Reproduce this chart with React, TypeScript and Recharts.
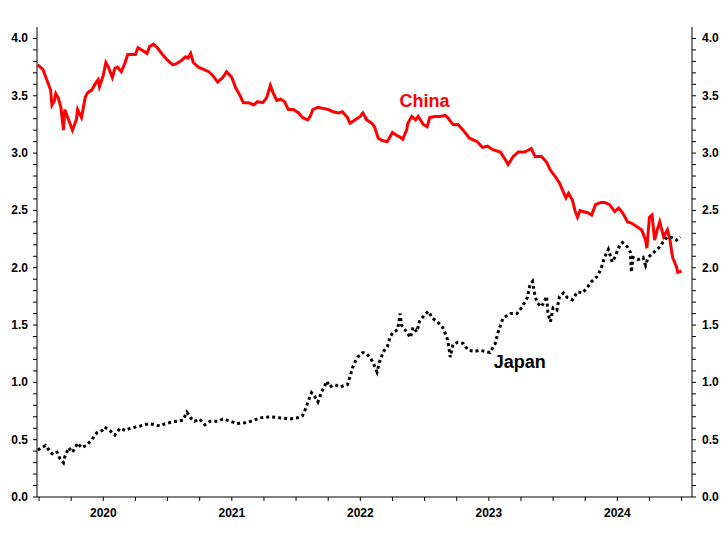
import React from 'react';
import { LineChart, Line, XAxis, YAxis, ReferenceDot } from 'recharts';

// time in decimal years, yields in %
const chinaTime = [
  2019.99, 2020.03, 2020.06, 2020.09, 2020.1, 2020.12, 2020.13, 2020.15, 2020.17, 2020.19,
  2020.2, 2020.22, 2020.24, 2020.26, 2020.29, 2020.3, 2020.33, 2020.36, 2020.38, 2020.41,
  2020.44, 2020.46, 2020.47, 2020.5, 2020.52, 2020.54, 2020.57, 2020.59, 2020.61, 2020.64,
  2020.67, 2020.69, 2020.72, 2020.75, 2020.77, 2020.8, 2020.84, 2020.86, 2020.89, 2020.92,
  2020.96, 2021.0, 2021.04, 2021.07, 2021.11, 2021.14, 2021.16, 2021.18, 2021.2, 2021.24,
  2021.28, 2021.32, 2021.35, 2021.39, 2021.43, 2021.46, 2021.5, 2021.53, 2021.56, 2021.59,
  2021.63, 2021.67, 2021.7, 2021.74, 2021.77, 2021.8, 2021.82, 2021.85, 2021.88, 2021.91,
  2021.94, 2021.98, 2022.02, 2022.05, 2022.09, 2022.11, 2022.13, 2022.17, 2022.21, 2022.25,
  2022.29, 2022.33, 2022.36, 2022.4, 2022.42, 2022.46, 2022.5, 2022.52, 2022.55, 2022.59,
  2022.61, 2022.64, 2022.67, 2022.71, 2022.75, 2022.79, 2022.81, 2022.83, 2022.86, 2022.87,
  2022.9, 2022.93, 2022.95, 2022.99, 2023.02, 2023.04, 2023.08, 2023.12, 2023.16, 2023.18,
  2023.22, 2023.26, 2023.3, 2023.35, 2023.41, 2023.45, 2023.49, 2023.53, 2023.59, 2023.63,
  2023.65, 2023.69, 2023.73, 2023.78, 2023.83, 2023.86, 2023.91, 2023.95, 2023.98, 2024.02,
  2024.05, 2024.08, 2024.1, 2024.12, 2024.15, 2024.17, 2024.19, 2024.21, 2024.23, 2024.27,
  2024.3, 2024.33, 2024.37, 2024.4, 2024.44, 2024.48, 2024.51, 2024.54, 2024.58, 2024.61,
  2024.65, 2024.69, 2024.72, 2024.73, 2024.75, 2024.77, 2024.79, 2024.81, 2024.83, 2024.86,
  2024.89, 2024.91, 2024.93, 2024.96, 2024.97, 2025.0,
];
const chinaYield = [
  3.77, 3.73, 3.64, 3.55, 3.42, 3.46, 3.52, 3.48, 3.4, 3.2,
  3.38, 3.32, 3.26, 3.2, 3.29, 3.38, 3.31, 3.49, 3.53, 3.55,
  3.61, 3.64, 3.58, 3.68, 3.79, 3.75, 3.66, 3.74, 3.75, 3.71,
  3.79, 3.86, 3.86, 3.86, 3.92, 3.9, 3.87, 3.93, 3.95, 3.92,
  3.86, 3.81, 3.77, 3.78, 3.81, 3.84, 3.83, 3.87, 3.79, 3.75,
  3.73, 3.71, 3.68, 3.62, 3.66, 3.71, 3.66, 3.57, 3.51, 3.44,
  3.44, 3.42, 3.45, 3.44, 3.48, 3.59, 3.53, 3.46, 3.47, 3.45,
  3.38, 3.38, 3.35, 3.31, 3.29, 3.32, 3.38, 3.4, 3.39, 3.38,
  3.36, 3.35, 3.36, 3.31, 3.26, 3.29, 3.32, 3.35, 3.29, 3.26,
  3.23, 3.13, 3.11, 3.1, 3.18, 3.15, 3.14, 3.12, 3.2, 3.26,
  3.32, 3.29, 3.32, 3.25, 3.23, 3.31, 3.32, 3.32, 3.33, 3.31,
  3.25, 3.25, 3.2, 3.13, 3.1, 3.05, 3.06, 3.03, 3.01, 2.94,
  2.9, 2.97, 3.01, 3.01, 3.04, 2.97, 2.97, 2.92, 2.85, 2.79,
  2.74, 2.66, 2.61, 2.65, 2.59, 2.5, 2.44, 2.5, 2.49, 2.48,
  2.46, 2.55, 2.57, 2.57, 2.55, 2.49, 2.52, 2.48, 2.4, 2.39,
  2.36, 2.33, 2.24, 2.17, 2.44, 2.46, 2.24, 2.33, 2.4, 2.27,
  2.33, 2.24, 2.09, 2.01, 1.96, 1.97,
];

const japanTime = [
  2019.99, 2020.05, 2020.09, 2020.11, 2020.14, 2020.16, 2020.19, 2020.2, 2020.23, 2020.26,
  2020.3, 2020.33, 2020.37, 2020.41, 2020.45, 2020.49, 2020.51, 2020.55, 2020.59, 2020.63,
  2020.67, 2020.71, 2020.75, 2020.79, 2020.82, 2020.86, 2020.9, 2020.94, 2020.98, 2021.02,
  2021.07, 2021.12, 2021.15, 2021.18, 2021.21, 2021.25, 2021.29, 2021.33, 2021.39, 2021.43,
  2021.49, 2021.54, 2021.62, 2021.72, 2021.8, 2021.88, 2021.95, 2022.01, 2022.05, 2022.07,
  2022.09, 2022.12, 2022.15, 2022.17, 2022.2, 2022.24, 2022.26, 2022.3, 2022.34, 2022.4,
  2022.42, 2022.44, 2022.46, 2022.48, 2022.52, 2022.55, 2022.58, 2022.6, 2022.63, 2022.65,
  2022.68, 2022.71, 2022.73, 2022.75, 2022.79, 2022.81, 2022.82, 2022.86, 2022.89, 2022.91,
  2022.94, 2022.96, 2023.0, 2023.03, 2023.06, 2023.1, 2023.14, 2023.16, 2023.18, 2023.2,
  2023.22, 2023.26, 2023.3, 2023.34, 2023.39, 2023.43, 2023.47, 2023.51, 2023.55, 2023.57,
  2023.61, 2023.67, 2023.72, 2023.76, 2023.8, 2023.82, 2023.84, 2023.86, 2023.88, 2023.91,
  2023.95, 2023.96, 2023.98, 2024.0, 2024.03, 2024.05, 2024.08, 2024.11, 2024.15, 2024.19,
  2024.23, 2024.26, 2024.3, 2024.34, 2024.37, 2024.4, 2024.43, 2024.46, 2024.48, 2024.52,
  2024.54, 2024.58, 2024.6, 2024.61, 2024.62, 2024.66, 2024.7, 2024.72, 2024.74, 2024.78,
  2024.82, 2024.86, 2024.89, 2024.93, 2024.96, 2024.99,
];
const japanYield = [
  0.41, 0.45, 0.39, 0.37, 0.39, 0.34, 0.3, 0.35, 0.43, 0.39,
  0.47, 0.43, 0.45, 0.5, 0.56, 0.58, 0.61, 0.58, 0.54, 0.6,
  0.58, 0.6, 0.61, 0.62, 0.63, 0.64, 0.63, 0.62, 0.64, 0.65,
  0.66, 0.67, 0.74, 0.69, 0.66, 0.68, 0.63, 0.66, 0.66, 0.68,
  0.66, 0.64, 0.65, 0.69, 0.7, 0.69, 0.68, 0.69, 0.71, 0.76,
  0.82, 0.91, 0.87, 0.83, 0.92, 1.01, 0.96, 0.98, 0.96, 0.98,
  1.05, 1.13, 1.18, 1.22, 1.26, 1.25, 1.21, 1.17, 1.09, 1.18,
  1.27, 1.31, 1.39, 1.43, 1.46, 1.6, 1.5, 1.44, 1.39, 1.48,
  1.44, 1.53, 1.59, 1.62, 1.56, 1.53, 1.48, 1.43, 1.37, 1.22,
  1.33, 1.35, 1.34, 1.28, 1.27, 1.28, 1.27, 1.26, 1.34, 1.43,
  1.56, 1.6, 1.6, 1.66, 1.74, 1.85, 1.88, 1.75, 1.69, 1.66,
  1.75, 1.6, 1.53, 1.65, 1.63, 1.75, 1.78, 1.74, 1.72, 1.79,
  1.78, 1.82, 1.88, 1.92, 1.98, 2.09, 2.16, 2.05, 2.09, 2.2,
  2.22, 2.18, 2.14, 1.96, 2.09, 2.07, 2.09, 2.02, 2.09, 2.13,
  2.17, 2.23, 2.27, 2.26, 2.24, 2.27,
];

const xTicks = [
  2020, 2020.25, 2020.5, 2020.75, 2021, 2021.25, 2021.5, 2021.75, 2022, 2022.25, 2022.5,
  2022.75, 2023, 2023.25, 2023.5, 2023.75, 2024, 2024.25, 2024.5, 2024.75, 2025,
];
const yTicks = Array.from({ length: 41 }, (_, i) => i / 10);

const china = chinaTime.map((t, i) => ({ t, v: chinaYield[i] }));
const japan = japanTime.map((t, i) => ({ t, v: japanYield[i] }));

const FONT = '"Liberation Sans", Arial, sans-serif';

const YearTick = ({ x, y, payload }: any) => {
  const v = payload.value;
  if (Math.abs((v % 1) - 0.5) > 0.01) return <g />;
  return (
    <text x={x} y={y + 14} textAnchor="middle" fontFamily={FONT} fontSize={12} fontWeight="bold" fill="#000">
      {Math.floor(v)}
    </text>
  );
};

const ValueTick = ({ x, y, payload, anchor }: any) => {
  const v = payload.value;
  if (Math.round(v * 10) % 5 !== 0) return <g />;
  return (
    <text x={x} y={y} dy={4} textAnchor={anchor} fontFamily={FONT} fontSize={12} fontWeight="bold" fill="#000">
      {v.toFixed(1)}
    </text>
  );
};

export default function App() {
  return (
    <div style={{ width: 728, height: 546, background: '#fff' }}>
      <style>{'body{margin:0}'}</style>
      <LineChart width={728} height={546} margin={{ top: 27, right: 0, bottom: 0, left: 0 }}>
        <XAxis
          dataKey="t"
          type="number"
          domain={[2019.984, 2025.081]}
          ticks={xTicks}
          interval={0}
          height={49}
          tickSize={4}
          stroke="#000"
          tick={<YearTick />}
          allowDataOverflow
        />
        <YAxis
          yAxisId="left"
          orientation="left"
          width={37}
          domain={[0, 4.1]}
          ticks={yTicks}
          interval={0}
          tickSize={4}
          tickMargin={5}
          stroke="#000"
          tick={<ValueTick anchor="end" />}
          allowDataOverflow
        />
        <YAxis
          yAxisId="right"
          orientation="right"
          width={36}
          domain={[0, 4.1]}
          ticks={yTicks}
          interval={0}
          tickSize={4}
          tickMargin={6}
          stroke="#000"
          tick={<ValueTick anchor="start" />}
          allowDataOverflow
        />
        <Line
          yAxisId="left"
          data={china}
          dataKey="v"
          type="linear"
          stroke="#ff0000"
          strokeWidth={3}
          dot={false}
          isAnimationActive={false}
        />
        <Line
          yAxisId="left"
          data={japan}
          dataKey="v"
          type="linear"
          stroke="#000"
          strokeWidth={3}
          strokeDasharray="3 3"
          dot={false}
          isAnimationActive={false}
        />
        <ReferenceDot
          yAxisId="left"
          x={2023.0}
          y={3.46}
          r={0}
          fill="none"
          stroke="none"
          label={{ value: 'China', position: 'center', fill: '#ff0000', fontSize: 18, fontWeight: 'bold', fontFamily: FONT }}
        />
        <ReferenceDot
          yAxisId="left"
          x={2023.74}
          y={1.18}
          r={0}
          fill="none"
          stroke="none"
          label={{ value: 'Japan', position: 'center', fill: '#000', fontSize: 18, fontWeight: 'bold', fontFamily: FONT }}
        />
      </LineChart>
    </div>
  );
}
